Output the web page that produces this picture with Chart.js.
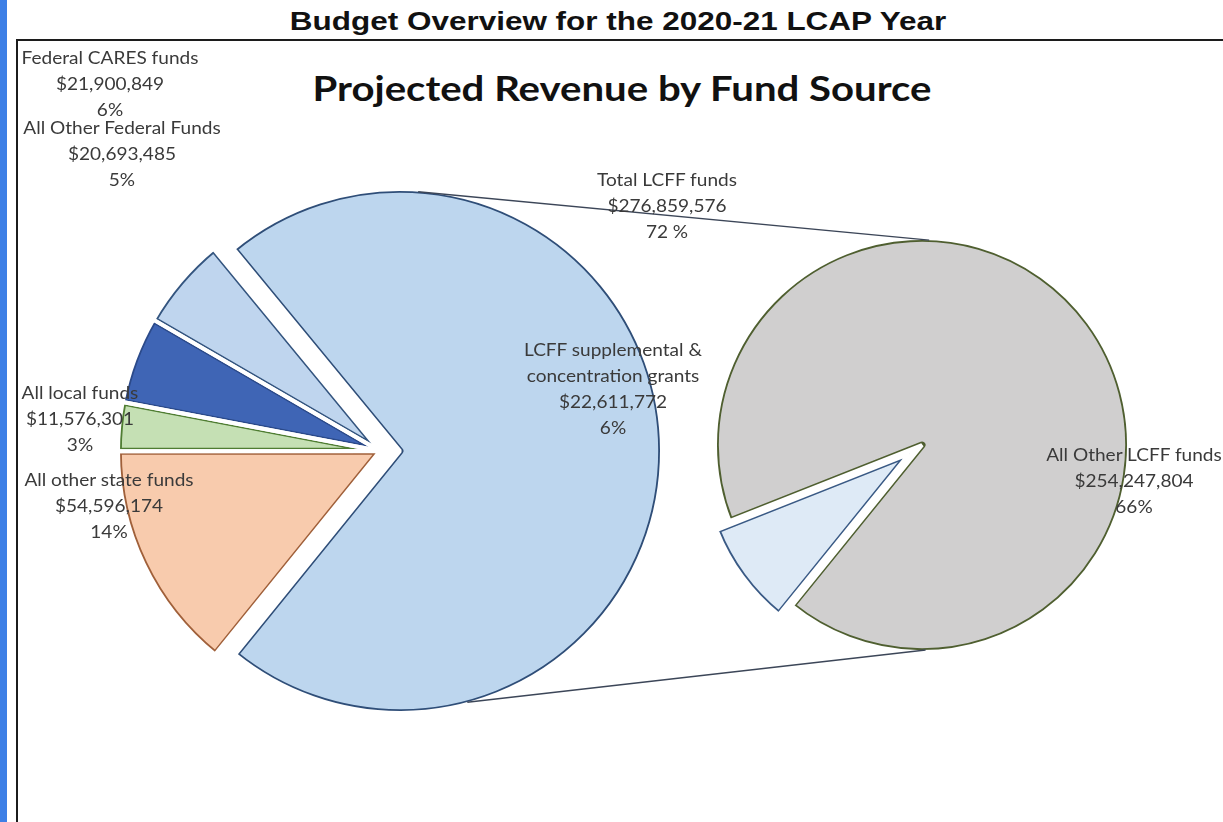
<!DOCTYPE html>
<html>
<head>
<meta charset="utf-8">
<title>Projected Revenue by Fund Source</title>
<script src="https://cdn.jsdelivr.net/npm/chart.js"></script>
<style>
  body { margin: 0; width: 1223px; height: 822px; overflow: hidden; background: #fff; position: relative; font-family: Lato, "Open Sans", sans-serif; }
  #strip { position: absolute; left: 0; top: 0; width: 7px; height: 822px; background: #3d7fe6; }
  #frame { position: absolute; left: 16px; top: 39px; width: 1300px; height: 900px; border: 2px solid #1c1c1c; }
  #topTitle { position: absolute; left: 0; width: 1236px; top: 6px; text-align: center; font: bold 26px "Liberation Sans", Arial, sans-serif; line-height: 30px; color: #111; transform: scaleX(1.21); }
  #chartTitle { position: absolute; left: 0; width: 1244px; top: 68px; text-align: center; font: bold 34px Lato, sans-serif; line-height: 40px; color: #111; transform: scaleX(1.18); }
  canvas { position: absolute; }
  .lbl { position: absolute; transform: translateX(-50%) scaleX(1.12); text-align: center; white-space: nowrap; font-size: 17px; line-height: 26px; color: #3a3a3a; }
</style>
</head>
<body>
<div id="strip"></div>
<div id="frame"></div>
<div id="topTitle">Budget Overview for the 2020-21 LCAP Year</div>
<div id="chartTitle">Projected Revenue by Fund Source</div>

<canvas id="mainRest" width="600" height="600" style="left:80px;top:151px"></canvas>
<canvas id="mainRestW" width="600" height="600" style="left:80px;top:151px"></canvas>
<canvas id="mainBig" width="600" height="600" style="left:80px;top:151px"></canvas>
<canvas id="mainBigW" width="600" height="600" style="left:80px;top:151px"></canvas>

<canvas id="lcffRest" width="460" height="460" style="left:692px;top:215px"></canvas>
<canvas id="lcffRestW" width="460" height="460" style="left:692px;top:215px"></canvas>
<canvas id="lcffSupp" width="460" height="460" style="left:692px;top:215px"></canvas>
<canvas id="lcffSuppW" width="460" height="460" style="left:692px;top:215px"></canvas>

<canvas id="links" width="1223" height="822" style="left:0;top:0"></canvas>
<div id="labels"></div>

<script>
// main pie: fund sources
const mainLabels = ['All other state funds', 'All local funds', 'All Other Federal Funds', 'Federal CARES funds', 'Total LCFF funds'];
const mainValues = [54596174, 11576301, 20693485, 21900849, 276859576];
const mainPercents = ['14%', '3%', '5%', '6%', '72 %'];

// second pie: split of the LCFF funds
const lcffLabels = ['LCFF supplemental &\nconcentration grants', 'All Other LCFF funds'];
const lcffValues = [22611772, 254247804];
const lcffPercents = ['6%', '66%'];

const mainFill = ['#f8cbad', '#c5e0b4', '#3f65b5', '#bfd5ee', '#bdd6ee'];
const mainEdge = ['#a0603a', '#4f7d32', '#2b4a8a', '#34557f', '#2f4e78'];
const lcffFill = ['#deeaf6', '#d0cfcf'];
const lcffEdge = ['#3a5a85', '#4f5f30'];

// where the data labels sit (centre x, middle of first line)
const mainLabelPos = [[109, 480], [80, 393], [122, 128], [110, 58], [667, 180]];
const lcffLabelPos = [[613, 350], [1134, 455]];

const START = 219;   // degrees, first slice starts lower left
const HIDDEN = 'rgba(0,0,0,0)';

function makeLayer(id, labels, values, fill, edge, show, white, radius) {
  return new Chart(document.getElementById(id), {
    type: 'pie',
    data: {
      labels: labels,
      datasets: [{
        data: values,
        backgroundColor: white ? HIDDEN : fill.map((c, i) => show[i] ? c : HIDDEN),
        borderColor: white ? '#ffffff' : edge,
        borderWidth: show.map(s => s ? (white ? 4 : 3.5) : 0),
        borderAlign: white ? 'center' : 'inner'
      }]
    },
    options: {
      responsive: false,
      animation: false,
      events: [],
      rotation: START,
      radius: radius,
      plugins: { legend: { display: false }, tooltip: { enabled: false } }
    }
  });
}

// move a slice out along its own middle angle
function explode(charts, index, dist) {
  const el = charts[0].getDatasetMeta(0).data[index];
  const mid = (el.startAngle + el.endAngle) / 2;
  charts.forEach(c => {
    c.canvas.style.left = (c.canvas.offsetLeft + dist * Math.cos(mid)) + 'px';
    c.canvas.style.top = (c.canvas.offsetTop + dist * Math.sin(mid)) + 'px';
  });
}

const restMain = [true, true, true, true, false];
const bigMain = restMain.map(s => !s);
makeLayer('mainRest', mainLabels, mainValues, mainFill, mainEdge, restMain, false, 262);
makeLayer('mainRestW', mainLabels, mainValues, mainFill, mainEdge, restMain, true, 262);
const mBig = makeLayer('mainBig', mainLabels, mainValues, mainFill, mainEdge, bigMain, false, 262);
const mBigW = makeLayer('mainBigW', mainLabels, mainValues, mainFill, mainEdge, bigMain, true, 262);
explode([mBig, mBigW], 4, 20);

const restLcff = [false, true];
const suppLcff = [true, false];
const lRest = makeLayer('lcffRest', lcffLabels, lcffValues, lcffFill, lcffEdge, restLcff, false, 207);
makeLayer('lcffRestW', lcffLabels, lcffValues, lcffFill, lcffEdge, restLcff, true, 207);
const lSupp = makeLayer('lcffSupp', lcffLabels, lcffValues, lcffFill, lcffEdge, suppLcff, false, 207);
const lSuppW = makeLayer('lcffSuppW', lcffLabels, lcffValues, lcffFill, lcffEdge, suppLcff, true, 207);
explode([lSupp, lSuppW], 0, 16);

// connector lines between the LCFF slice and the second pie
function arcPoint(chart, index, deg) {
  const el = chart.getDatasetMeta(0).data[index];
  const r = el.outerRadius - 2;
  const a = deg * Math.PI / 180;
  return [chart.canvas.offsetLeft + el.x + r * Math.cos(a), chart.canvas.offsetTop + el.y + r * Math.sin(a)];
}
const ctx = document.getElementById('links').getContext('2d');
ctx.strokeStyle = '#3c4658';
ctx.lineWidth = 1.5;
[[-86, -88], [75, 89]].forEach(([a1, a2]) => {
  const p1 = arcPoint(mBig, 4, a1);
  const p2 = arcPoint(lRest, 1, a2);
  ctx.beginPath();
  ctx.moveTo(p1[0], p1[1]);
  ctx.lineTo(p2[0], p2[1]);
  ctx.stroke();
});

// data labels: name, value, percent
function addLabels(labels, values, percents, pos) {
  const box = document.getElementById('labels');
  labels.forEach((name, i) => {
    const d = document.createElement('div');
    d.className = 'lbl';
    const lines = name.split('\n').concat(['$' + values[i].toLocaleString('en-US'), percents[i]]);
    d.innerHTML = lines.join('<br>');
    d.style.left = pos[i][0] + 'px';
    d.style.top = (pos[i][1] - 13.5) + 'px';
    box.appendChild(d);
  });
}
addLabels(mainLabels, mainValues, mainPercents, mainLabelPos);
addLabels(lcffLabels, lcffValues, lcffPercents, lcffLabelPos);
</script>
</body>
</html>
